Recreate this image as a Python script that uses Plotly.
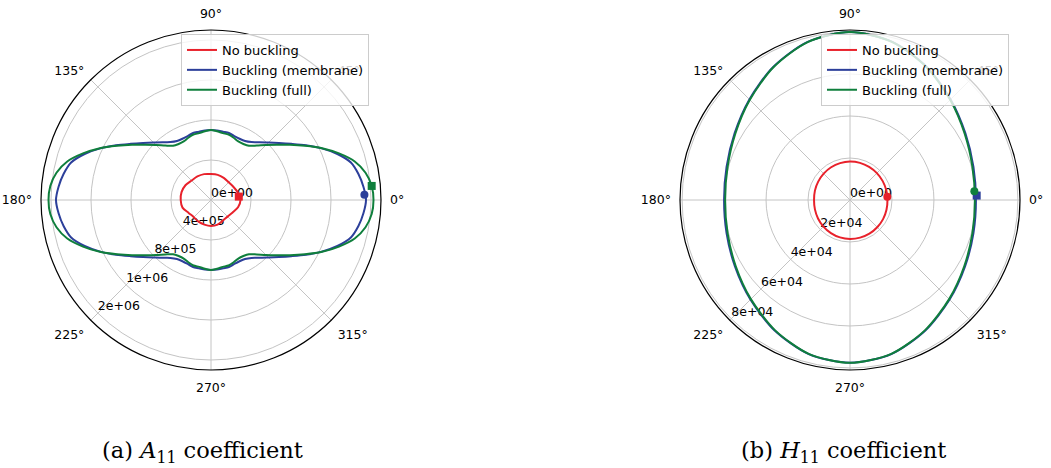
import plotly.graph_objects as go

# ---------------- data ----------------
angles_5 = list(range(0, 360, 5))
angles_15 = list(range(0, 360, 15))

A11_UNIT = 1e6
H11_UNIT = 1e4

# (a) A11 coefficient  (values in 1e6)
a11_no_buckling = [0.295, 0.280, 0.260, 0.250, 0.255, 0.260, 0.260, 0.268, 0.272, 0.275, 0.295, 0.305,
                   0.303, 0.295, 0.258, 0.243, 0.250, 0.255, 0.260, 0.255, 0.238, 0.235, 0.250, 0.280]
a11_membrane = [1.550, 1.530, 1.497, 1.448, 1.345, 1.222, 1.096, 0.980, 0.887, 0.813, 0.755, 0.707, 0.681, 0.676, 0.681, 0.694, 0.693, 0.698,
                0.700, 0.698, 0.693, 0.694, 0.681, 0.676, 0.681, 0.707, 0.755, 0.813, 0.887, 0.980, 1.096, 1.222, 1.345, 1.448, 1.497, 1.530,
                1.550, 1.530, 1.497, 1.448, 1.345, 1.222, 1.096, 0.980, 0.887, 0.813, 0.755, 0.707, 0.681, 0.676, 0.681, 0.694, 0.693, 0.698,
                0.700, 0.698, 0.693, 0.694, 0.681, 0.676, 0.681, 0.707, 0.755, 0.813, 0.887, 0.980, 1.096, 1.222, 1.345, 1.448, 1.497, 1.530]
a11_full = [1.625, 1.613, 1.569, 1.488, 1.362, 1.226, 1.086, 0.964, 0.860, 0.778, 0.711, 0.662, 0.647, 0.646, 0.663, 0.678, 0.679, 0.690,
            0.700, 0.690, 0.679, 0.678, 0.663, 0.646, 0.647, 0.662, 0.711, 0.778, 0.860, 0.964, 1.086, 1.226, 1.362, 1.488, 1.569, 1.613,
            1.625, 1.613, 1.569, 1.488, 1.362, 1.226, 1.086, 0.964, 0.860, 0.778, 0.711, 0.662, 0.647, 0.646, 0.663, 0.678, 0.679, 0.690,
            0.700, 0.690, 0.679, 0.678, 0.663, 0.646, 0.647, 0.662, 0.711, 0.778, 0.860, 0.964, 1.086, 1.226, 1.362, 1.488, 1.569, 1.613]
a11_marker_theta = [7, 2, 5]
a11_marker_r = [0.280, 1.535, 1.613]
a11_tickvals = [0.0, 0.4, 0.8, 1.2, 1.6]
a11_ticktext = ["0e+00", "4e+05", "8e+05", "1e+06", "2e+06"]
a11_rmax = 1.70

# (b) H11 coefficient  (values in 1e4)
h11_no_buckling = [1.785, 1.790, 1.800, 1.810, 1.820, 1.830, 1.833, 1.820, 1.800, 1.775, 1.750, 1.730,
                   1.714, 1.730, 1.760, 1.790, 1.820, 1.845, 1.857, 1.855, 1.850, 1.835, 1.820, 1.800]
h11_membrane = [6.00, 6.09, 6.35, 6.78, 7.32, 7.80, 8.00, 7.80, 7.32, 6.78, 6.35, 6.09,
                6.00, 6.09, 6.33, 6.71, 7.18, 7.60, 7.76, 7.60, 7.18, 6.71, 6.33, 6.09]
h11_full = [5.95, 6.04, 6.31, 6.75, 7.30, 7.79, 8.00, 7.79, 7.30, 6.75, 6.31, 6.04,
            5.95, 6.04, 6.29, 6.68, 7.16, 7.59, 7.76, 7.59, 7.16, 6.68, 6.29, 6.04]
h11_marker_theta = [5, 2, 4]
h11_marker_r = [1.785, 6.04, 5.94]
h11_tickvals = [0.0, 2.0, 4.0, 6.0, 8.0]
h11_ticktext = ["0e+00", "2e+04", "4e+04", "6e+04", "8e+04"]
h11_rmax = 8.10

series_names = ["No buckling", "Buckling (membrane)", "Buckling (full)"]
colors = ["#e8212b", "#2c3f9a", "#0f7f3c"]
left_symbols = ["square", "circle", "square"]
right_symbols = ["circle", "square", "circle"]
angle_ticks = [0, 45, 90, 135, 180, 225, 270, 315]
angle_labels = [f"{a}°" for a in angle_ticks]
caption_a = "(a) <i>A</i><sub>11</sub> coefficient"
caption_b = "(b) <i>H</i><sub>11</sub> coefficient"

# ---------------- figure ----------------
W, H = 1051, 468
FONT = "DejaVu Sans"
GRID = "#c4c4c4"

fig = go.Figure()


def closed(theta, r, unit):
    return list(theta) + [theta[0] + 360], [v * unit for v in r] + [r[0] * unit]


def add_panel(subplot, legend, unit, tickvals, ticktext, curves, m_theta, m_r, symbols):
    # radial tick labels drawn along the 225° direction
    fig.add_trace(go.Scatterpolar(
        r=[v * unit for v in tickvals], theta=[225] * len(tickvals), text=ticktext,
        mode="text", textposition="top right",
        textfont=dict(family=FONT, size=12.5, color="black"),
        showlegend=False, hoverinfo="skip", subplot=subplot, cliponaxis=False))
    for (theta, r), name, col in zip(curves, series_names, colors):
        th, rr = closed(theta, r, unit)
        fig.add_trace(go.Scatterpolar(
            r=rr, theta=th, mode="lines", name=name,
            line=dict(color=col, width=2, shape="spline", smoothing=0.8),
            subplot=subplot, legend=legend))
    for t, rv, col, sym in zip(m_theta, m_r, colors, symbols):
        fig.add_trace(go.Scatterpolar(
            r=[rv * unit], theta=[t], mode="markers",
            marker=dict(color=col, size=8, symbol=sym, line=dict(width=0)),
            showlegend=False, subplot=subplot, cliponaxis=False))


add_panel("polar", "legend", A11_UNIT, a11_tickvals, a11_ticktext,
          [(angles_15, a11_no_buckling), (angles_5, a11_membrane), (angles_5, a11_full)],
          a11_marker_theta, a11_marker_r, left_symbols)
add_panel("polar2", "legend2", H11_UNIT, h11_tickvals, h11_ticktext,
          [(angles_15, h11_no_buckling), (angles_15, h11_membrane), (angles_15, h11_full)],
          h11_marker_theta, h11_marker_r, right_symbols)


def polar_layout(xdom, rmax, unit, tickvals):
    return dict(
        domain=dict(x=xdom, y=[98 / H, 438 / H]),
        bgcolor="white",
        angularaxis=dict(
            rotation=0, direction="counterclockwise",
            tickmode="array", tickvals=angle_ticks, ticktext=angle_labels,
            tickfont=dict(family=FONT, size=12.5, color="black"),
            showline=True, linecolor="black", linewidth=1.2,
            showgrid=True, gridcolor=GRID, gridwidth=1,
            ticks="outside", ticklen=6, tickcolor="rgba(0,0,0,0)"),
        radialaxis=dict(
            range=[0, rmax * unit], tickmode="array",
            tickvals=[v * unit for v in tickvals[1:]],
            showticklabels=False, showline=False, ticks="",
            showgrid=True, gridcolor=GRID, gridwidth=1),
    )


legend_style = dict(
    bgcolor="rgba(255,255,255,0.8)", bordercolor="#cccccc", borderwidth=1,
    font=dict(family=FONT, size=13, color="black"),
    xanchor="left", yanchor="top", tracegroupgap=0, itemwidth=30)

cap_font = dict(family="DejaVu Serif", size=22.5, color="black")

fig.update_layout(
    width=W, height=H,
    margin=dict(l=0, r=0, t=0, b=0),
    paper_bgcolor="white", plot_bgcolor="white",
    font=dict(family=FONT, color="black"),
    polar=polar_layout([41 / W, 381 / W], a11_rmax, A11_UNIT, a11_tickvals),
    polar2=polar_layout([680 / W, 1020 / W], h11_rmax, H11_UNIT, h11_tickvals),
    legend=dict(x=181 / W, y=1 - 34 / H, **legend_style),
    legend2=dict(x=821 / W, y=1 - 34 / H, **legend_style),
    annotations=[
        dict(text=caption_a, x=100 / W, y=1 - 452 / H, xref="paper", yref="paper",
             xanchor="left", yanchor="middle", showarrow=False, font=cap_font),
        dict(text=caption_b, x=739 / W, y=1 - 452 / H, xref="paper", yref="paper",
             xanchor="left", yanchor="middle", showarrow=False, font=cap_font),
    ],
)

fig.write_html("out.html", config={"displayModeBar": False},
               post_script="document.body.style.margin='0px';")
